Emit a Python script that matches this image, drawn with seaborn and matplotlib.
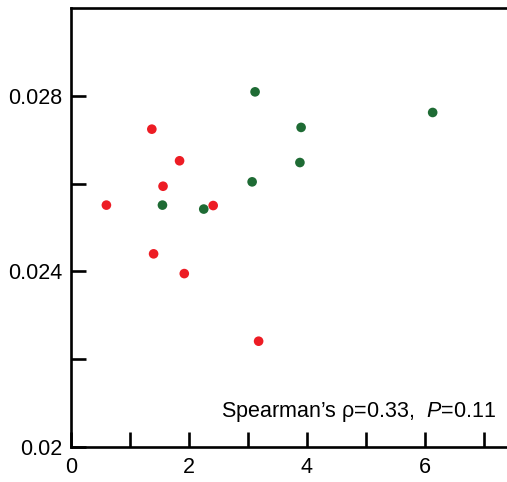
import matplotlib
matplotlib.use("Agg")
import matplotlib.pyplot as plt
import seaborn as sns
import pandas as pd

# Data
red_x = [0.60, 1.37, 1.84, 1.56, 2.41, 1.40, 1.92, 3.18]
red_y = [0.02551, 0.02724, 0.02652, 0.02594, 0.02550, 0.02440, 0.02395, 0.02241]
green_x = [3.12, 3.90, 3.88, 3.07, 1.55, 2.25, 6.13]
green_y = [0.02809, 0.02728, 0.02648, 0.02604, 0.02551, 0.02542, 0.02762]
groups = ["red", "green"]
x_ticks = [0, 1, 2, 3, 4, 5, 6, 7]
x_labels = ["0", "", "2", "", "4", "", "6", ""]
y_ticks = [0.02, 0.022, 0.024, 0.026, 0.028]
y_labels = ["0.02", "", "0.024", "", "0.028"]
annotation = "Spearman\u2019s \u03c1=0.33,  $P$=0.11"

df = pd.DataFrame({
    "x": red_x + green_x,
    "y": red_y + green_y,
    "group": [groups[0]] * len(red_x) + [groups[1]] * len(green_x),
})

sns.set_style("ticks")
plt.rcParams["font.family"] = ["Liberation Sans", "DejaVu Sans"]
plt.rcParams["mathtext.fontset"] = "custom"
plt.rcParams["mathtext.it"] = "Liberation Sans:italic"
plt.rcParams["mathtext.rm"] = "Liberation Sans"
plt.rcParams["text.color"] = "black"

fig = plt.figure(figsize=(5.07, 4.82), dpi=100)
ax = fig.add_axes([71 / 507, 1 - 447 / 482, 1 - 71 / 507, (447 - 8) / 482])

sns.scatterplot(data=df, x="x", y="y", hue="group",
                palette={"red": "#ED1C24", "green": "#1E6B34"},
                s=48, edgecolor="none", legend=False, ax=ax)

ax.set_xlim(0, 7.39)
ax.set_ylim(0.02, 0.03)
ax.set_xticks(x_ticks)
ax.set_xticklabels(x_labels)
ax.set_yticks(y_ticks)
ax.set_yticklabels(y_labels)
ax.set_xlabel("")
ax.set_ylabel("")

for side in ["left", "bottom", "top"]:
    ax.spines[side].set_linewidth(1.9)
    ax.spines[side].set_color("black")
ax.spines["right"].set_visible(False)
ax.tick_params(axis="both", direction="in", length=11, width=1.9,
               labelsize=15.5, colors="black", pad=6)
ax.tick_params(axis="x", pad=7)

ax.text(0.975, 0.068, annotation, transform=ax.transAxes,
        ha="right", va="baseline", fontsize=15.5, color="black")

fig.savefig("out.png", dpi=100)
